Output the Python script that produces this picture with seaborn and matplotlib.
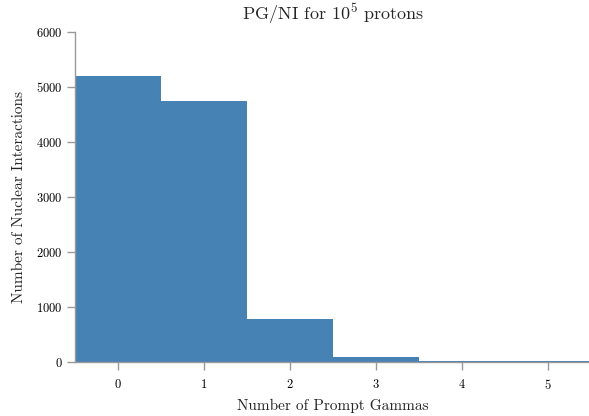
import matplotlib
matplotlib.use("Agg")
import matplotlib.pyplot as plt
import seaborn as sns
import pandas as pd

# Prompt gammas per nuclear interaction
n_gammas = [0, 1, 2, 3, 4, 5]
n_interactions = [5195, 4740, 770, 85, 12, 3]

df = pd.DataFrame({"gammas": n_gammas, "count": n_interactions})

sns.set_style("ticks")
plt.rcParams["font.family"] = ["cmr10", "DejaVu Serif"]
plt.rcParams["mathtext.fontset"] = "cm"
plt.rcParams["axes.formatter.use_mathtext"] = True

fig = plt.figure(figsize=(5.89, 4.16), dpi=100)
ax = fig.add_axes([0.127, 0.131, 0.877, 0.792])

sns.histplot(data=df, x="gammas", weights="count", discrete=True,
             color="steelblue", alpha=1, linewidth=0, ax=ax)

ax.set_xlim(-0.5, 5.5)
ax.set_ylim(0, 6000)
ax.set_xticks(n_gammas)
ax.set_yticks(range(0, 6001, 1000))

ax.set_title(r"PG/NI for $10^5$ protons", fontsize=13, pad=9)
ax.set_xlabel("Number of Prompt Gammas", fontsize=11, labelpad=5)
ax.set_ylabel("Number of Nuclear Interactions", fontsize=11, labelpad=7)

for s in ["top", "right"]:
    ax.spines[s].set_visible(False)
for s in ["left", "bottom"]:
    ax.spines[s].set_color("#999999")
    ax.spines[s].set_linewidth(1)

ax.tick_params(axis="both", which="major", labelsize=9, colors="#999999",
               labelcolor="black", length=6, width=1, direction="out")
ax.tick_params(axis="x", pad=6)
ax.tick_params(axis="y", pad=3)

fig.savefig("out.png", dpi=100)
